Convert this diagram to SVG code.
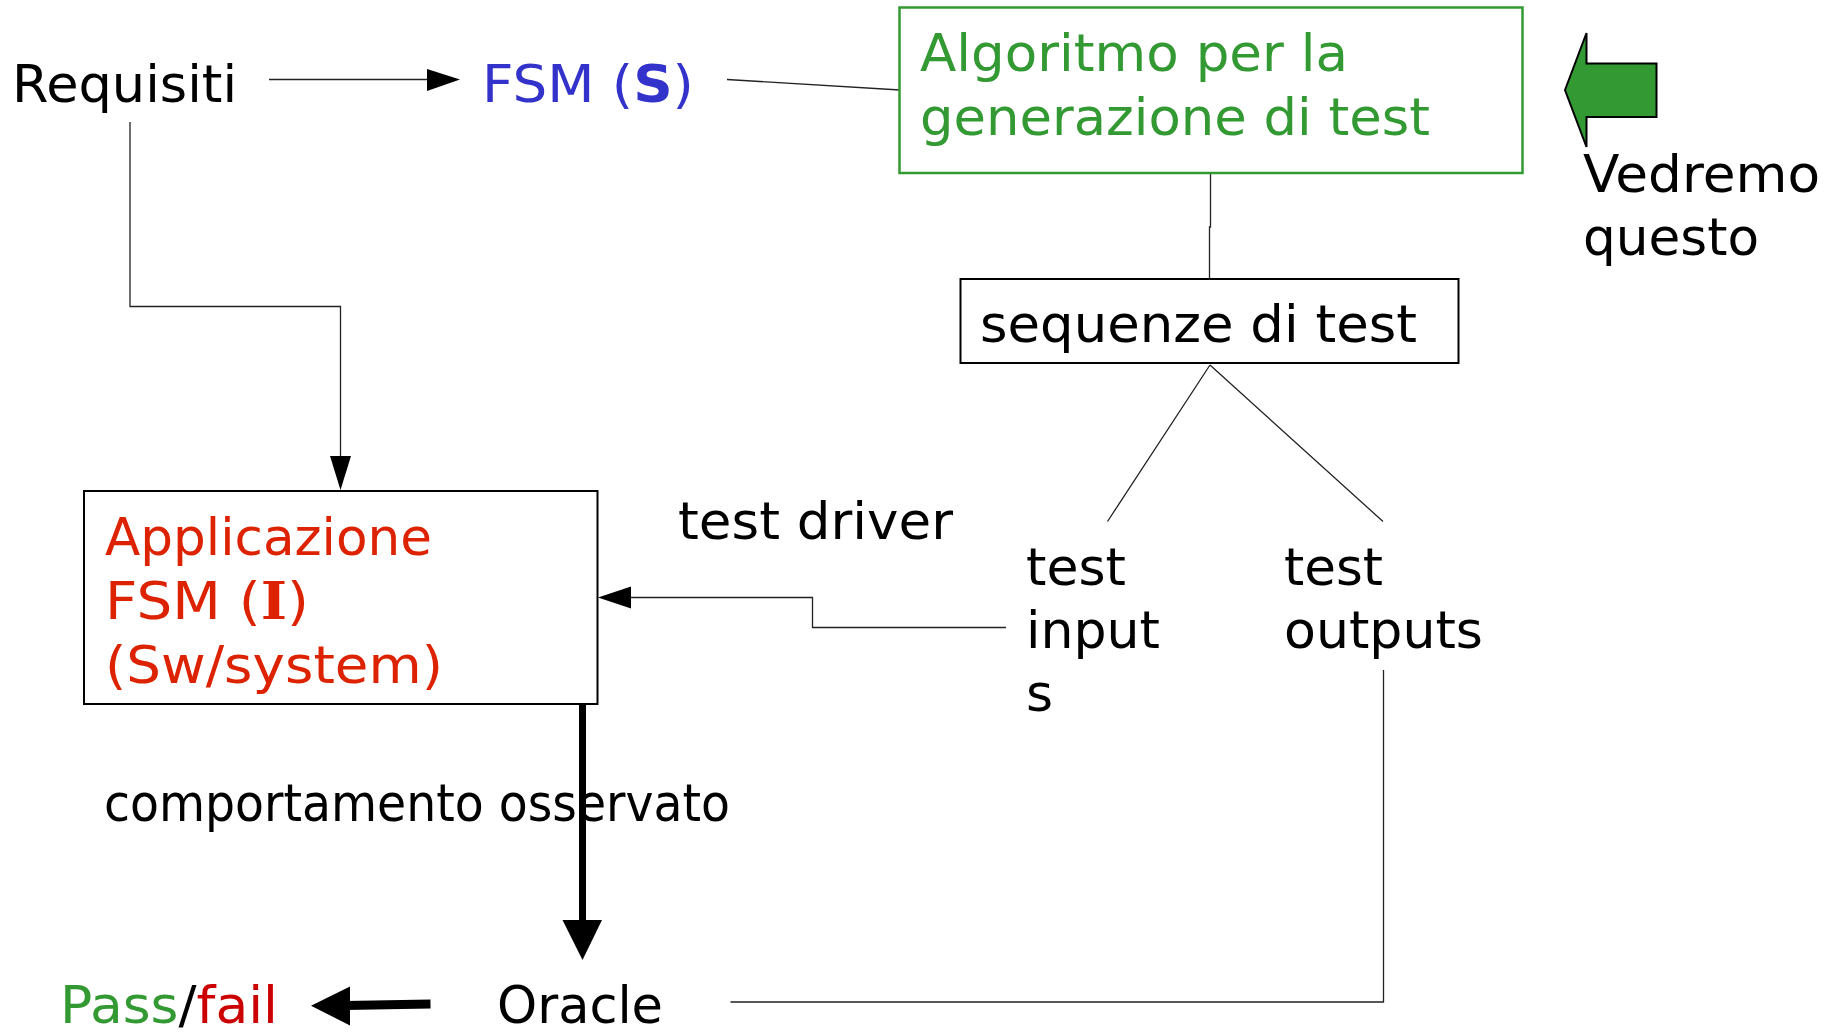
<svg xmlns="http://www.w3.org/2000/svg" width="1835" height="1032" viewBox="0 0 1835 1032">
<style>
text{font-family:"DejaVu Sans","Verdana",sans-serif;font-size:52px;fill:#000}
.blue{fill:#3333cc}
.green{fill:#339933}
.red{fill:#dd2200}
.thin{fill:none;stroke:#222;stroke-width:1.3}
.box{fill:#fff;stroke:#000;stroke-width:2}
</style>
<g id="connectors">
<path class="thin" d="M269,79.5 H428" />
<path d="M427,69 L460,79.5 L427,91 Z" fill="#000"/>
<path class="thin" d="M727,79.5 L900,90"/>
<path class="thin" d="M130,122 V306.5 H340.5 V456"/>
<path d="M330,456 L340.5,490 L351,456 Z" fill="#000"/>
<path class="thin" d="M1210.5,173 V227 H1209.5 V279"/>
<path class="thin" d="M1210,365 L1107.5,521.5 M1210,365 L1383,521.5"/>
<path class="thin" d="M1006,627.5 H812.5 V597.5 H630"/>
<path d="M631,586.5 L598,597.5 L631,608.5 Z" fill="#000"/>
<path class="thin" d="M1383.5,670 V1002 H730.5"/>
<path d="M582.5,703 V925" stroke="#000" stroke-width="7" fill="none"/>
<path d="M562.5,920 L582.5,960 L602,920 Z" fill="#000"/>
<path d="M430.5,1004 L345,1005.5" stroke="#000" stroke-width="9" fill="none"/>
<path d="M350,986.5 L311,1005.7 L350,1025.5 Z" fill="#000"/>
</g>
<g id="requisiti"><text x="12" y="102" textLength="225" lengthAdjust="spacingAndGlyphs">Requisiti</text></g>
<g id="fsm-s"><text x="482" y="102" class="blue" textLength="212" lengthAdjust="spacingAndGlyphs">FSM (<tspan font-weight="bold">S</tspan>)</text></g>
<g id="algoritmo">
<rect x="899.5" y="7.5" width="623" height="165.5" fill="#fff" stroke="#339933" stroke-width="2.5"/>
<text x="920" y="71" class="green" textLength="428" lengthAdjust="spacingAndGlyphs">Algoritmo per la</text>
<text x="920" y="135" class="green" textLength="510" lengthAdjust="spacingAndGlyphs">generazione di test</text>
</g>
<g id="vedremo">
<path d="M1565,90 L1586.5,33 L1586.5,63.5 L1656.5,63.5 L1656.5,117 L1586.5,117 L1586.5,147 Z" fill="#339933" stroke="#000" stroke-width="2"/>
<text x="1583" y="192" textLength="237" lengthAdjust="spacingAndGlyphs">Vedremo</text>
<text x="1583" y="255" textLength="176" lengthAdjust="spacingAndGlyphs">questo</text>
</g>
<g id="sequenze">
<rect x="960.5" y="279" width="498" height="84" class="box"/>
<text x="980" y="341.5" textLength="437" lengthAdjust="spacingAndGlyphs">sequenze di test</text>
</g>
<g id="applicazione">
<rect x="84" y="491" width="513.5" height="213" class="box"/>
<text x="105" y="555" class="red" textLength="327" lengthAdjust="spacingAndGlyphs">Applicazione</text>
<text x="105" y="619" class="red" textLength="204" lengthAdjust="spacingAndGlyphs">FSM (<tspan font-family="DejaVu Serif" font-weight="bold">I</tspan>)</text>
<text x="105" y="683" class="red" textLength="338" lengthAdjust="spacingAndGlyphs">(Sw/system)</text>
</g>
<g id="test-driver"><text x="678" y="539" textLength="275" lengthAdjust="spacingAndGlyphs">test driver</text></g>
<g id="test-inputs">
<text x="1026" y="585" textLength="100" lengthAdjust="spacingAndGlyphs">test</text>
<text x="1026" y="648" textLength="134" lengthAdjust="spacingAndGlyphs">input</text>
<text x="1026" y="711">s</text>
</g>
<g id="test-outputs">
<text x="1284" y="585" textLength="99" lengthAdjust="spacingAndGlyphs">test</text>
<text x="1284" y="648" textLength="199" lengthAdjust="spacingAndGlyphs">outputs</text>
</g>
<g id="comportamento"><text x="104" y="821" textLength="626" lengthAdjust="spacingAndGlyphs">comportamento osservato</text></g>
<g id="oracle"><text x="497" y="1023" textLength="166" lengthAdjust="spacingAndGlyphs">Oracle</text></g>
<g id="passfail"><text x="60" y="1023" textLength="218" lengthAdjust="spacingAndGlyphs"><tspan fill="#339933">Pass</tspan>/<tspan fill="#cc0000">fail</tspan></text></g>
</svg>
